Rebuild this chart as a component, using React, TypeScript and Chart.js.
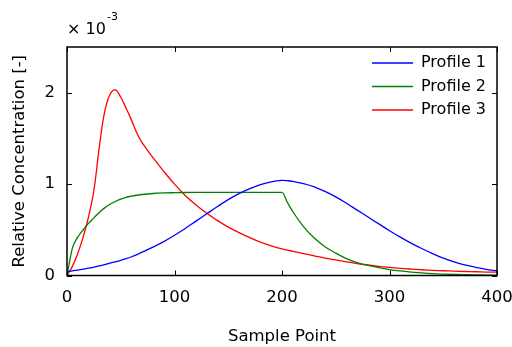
import React, { useEffect, useRef } from "react";
import { Chart, registerables } from "chart.js";

Chart.register(...registerables);

const sampleX = [0, 5, 10, 15, 20, 25, 30, 35, 40, 45, 50, 55, 60, 65, 70, 80, 90, 100, 110, 120, 130, 140, 150, 160, 170, 180, 190, 200, 205, 210, 220, 230, 240, 250, 260, 270, 280, 290, 300, 310, 320, 330, 340, 350, 360, 370, 380, 390, 400];

// values in units of 1e-3
const profile1 = [0.04, 0.05, 0.06, 0.07, 0.08, 0.092, 0.105, 0.12, 0.135, 0.15, 0.165, 0.184, 0.205, 0.229, 0.255, 0.31, 0.37, 0.44, 0.515, 0.595, 0.675, 0.755, 0.83, 0.895, 0.95, 0.995, 1.025, 1.04, 1.037, 1.03, 1.005, 0.97, 0.92, 0.86, 0.79, 0.715, 0.64, 0.565, 0.49, 0.42, 0.355, 0.295, 0.24, 0.19, 0.15, 0.115, 0.09, 0.068, 0.05];
const profile2 = [0, 0.3, 0.42, 0.5, 0.57, 0.63, 0.69, 0.74, 0.78, 0.81, 0.835, 0.855, 0.868, 0.878, 0.886, 0.897, 0.903, 0.906, 0.908, 0.909, 0.91, 0.91, 0.91, 0.91, 0.91, 0.91, 0.91, 0.91, 0.8, 0.7, 0.535, 0.41, 0.315, 0.245, 0.185, 0.142, 0.11, 0.085, 0.065, 0.05, 0.038, 0.028, 0.02, 0.015, 0.011, 0.008, 0.006, 0.005, 0.004];
const profile3 = [0, 0.1, 0.24, 0.42, 0.64, 0.93, 1.4, 1.79, 1.98, 2.03, 1.95, 1.83, 1.7, 1.56, 1.45, 1.29, 1.14, 1.0, 0.875, 0.77, 0.68, 0.6, 0.53, 0.47, 0.415, 0.365, 0.325, 0.29, 0.277, 0.265, 0.24, 0.215, 0.19, 0.17, 0.15, 0.13, 0.115, 0.1, 0.088, 0.078, 0.07, 0.063, 0.057, 0.052, 0.048, 0.044, 0.041, 0.038, 0.036];

const seriesNames = ["Profile 1", "Profile 2", "Profile 3"];
const seriesColors = ["#0000ff", "#008000", "#ff0000"];
const xTicks = [0, 100, 200, 300, 400];
const yTicks = [0, 1, 2];

const FONT = "'DejaVu Sans', sans-serif";

const framePlugin = {
  id: "frameTicks",
  afterDatasetsDraw(chart: any) {
    const { ctx, chartArea: a, scales } = chart;
    const L = 5;
    ctx.save();
    ctx.strokeStyle = "#000";
    ctx.lineWidth = 1;
    ctx.beginPath();
    xTicks.forEach((v) => {
      const px = Math.round(scales.x.getPixelForValue(v)) + 0.5;
      ctx.moveTo(px, a.bottom);
      ctx.lineTo(px, a.bottom - L);
      ctx.moveTo(px, a.top);
      ctx.lineTo(px, a.top + L);
    });
    yTicks.forEach((v) => {
      const py = Math.round(scales.y.getPixelForValue(v)) + 0.5;
      ctx.moveTo(a.left, py);
      ctx.lineTo(a.left + L, py);
      ctx.moveTo(a.right, py);
      ctx.lineTo(a.right - L, py);
    });
    ctx.stroke();
    ctx.lineWidth = 1.5;
    ctx.strokeRect(a.left, a.top, a.right - a.left, a.bottom - a.top);

    // legend
    ctx.font = `16px ${FONT}`;
    ctx.textBaseline = "middle";
    ctx.textAlign = "left";
    chart.data.datasets.forEach((ds: any, i: number) => {
      const y = 63 + i * 23.5;
      ctx.strokeStyle = ds.borderColor;
      ctx.lineWidth = 1.3;
      ctx.beginPath();
      ctx.moveTo(372, y);
      ctx.lineTo(413, y);
      ctx.stroke();
      ctx.fillStyle = "#000";
      ctx.fillText(ds.label, 421, y);
    });

    // exponent label
    ctx.textBaseline = "alphabetic";
    ctx.font = `16px ${FONT}`;
    ctx.fillText("\u00d7 10", 67, 34.3);
    ctx.font = `11px ${FONT}`;
    ctx.fillText("-3", 107, 20);
    ctx.restore();
  },
};

export default function App() {
  const ref = useRef<HTMLCanvasElement>(null);
  useEffect(() => {
    const profiles = [profile1, profile2, profile3];
    const chart = new Chart(ref.current as HTMLCanvasElement, {
      type: "line",
      data: {
        datasets: profiles.map((p, i) => ({
          label: seriesNames[i],
          data: sampleX.map((x, j) => ({ x, y: p[j] })),
          borderColor: seriesColors[i],
          backgroundColor: seriesColors[i],
          borderWidth: 1.3,
          pointRadius: 0,
          tension: 0.4,
          cubicInterpolationMode: (i === 1 ? "monotone" : "default") as any,
          fill: false,
        })),
      },
      options: {
        animation: false,
        responsive: false,
        layout: { padding: { left: 0, right: 15, top: 47, bottom: 0 } },
        plugins: { legend: { display: false }, tooltip: { enabled: false } },
        scales: {
          x: {
            type: "linear",
            min: 0,
            max: 400,
            grid: { display: false, drawTicks: false },
            border: { display: false },
            afterBuildTicks: (s: any) => {
              s.ticks = xTicks.map((v) => ({ value: v }));
            },
            afterFit: (s: any) => {
              s.height = 71.5;
              s.paddingLeft = 0;
              s.paddingRight = 0;
            },
            ticks: {
              color: "#000",
              padding: 12,
              maxRotation: 0,
              autoSkip: false,
              font: { family: FONT, size: 16.5 },
            },
            title: {
              display: true,
              text: "Sample Point",
              color: "#000",
              padding: { top: 0, bottom: 0 },
              font: { family: FONT, size: 16.5 },
            },
          },
          y: {
            type: "linear",
            min: 0,
            max: 2.5,
            grid: { display: false, drawTicks: false },
            border: { display: false },
            afterBuildTicks: (s: any) => {
              s.ticks = yTicks.map((v) => ({ value: v }));
            },
            afterFit: (s: any) => {
              s.width = 67;
              s.paddingTop = 0;
              s.paddingBottom = 0;
            },
            ticks: {
              color: "#000",
              padding: 12,
              font: { family: FONT, size: 16.5 },
            },
            title: {
              display: true,
              text: "Relative Concentration [-]",
              color: "#000",
              padding: { top: 10, bottom: 0 },
              font: { family: FONT, size: 16.5 },
            },
          },
        },
      },
      plugins: [framePlugin],
    });
    return () => chart.destroy();
  }, []);
  return (
    <div style={{ position: "fixed", left: 0, top: 0, width: 512, height: 347, background: "#fff" }}>
      <canvas ref={ref} width={512} height={347} style={{ display: "block" }} />
    </div>
  );
}
